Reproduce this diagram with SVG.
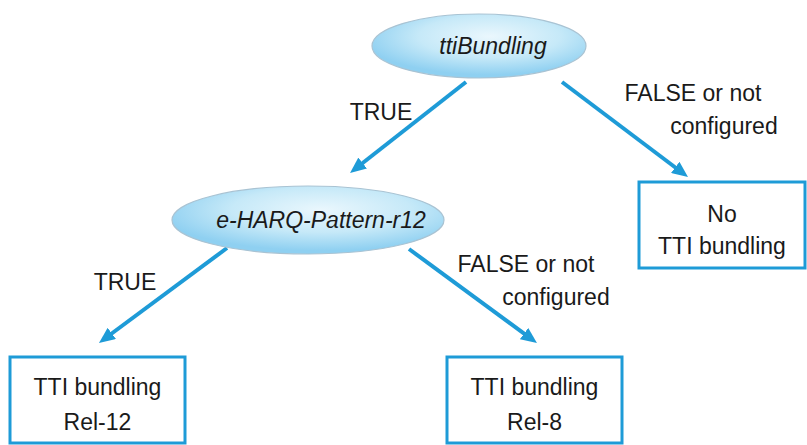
<svg xmlns="http://www.w3.org/2000/svg" width="807" height="445" viewBox="0 0 807 445">
<style>
text{font-family:"Liberation Sans",Arial,sans-serif;font-size:23px;fill:#1a1a1a;text-anchor:middle}
.it{font-style:italic}
.box{fill:#ffffff;stroke:#1e9bd7;stroke-width:3}
.ell{fill:url(#eg);stroke:#a9c3d3;stroke-width:1.2}
.con{stroke:#1e9bd7;stroke-width:4;fill:none;marker-end:url(#ah)}
</style>
<defs>
<radialGradient id="eg" cx="55%" cy="35%" r="60%">
<stop offset="0" stop-color="#eaf7fd"/>
<stop offset="0.55" stop-color="#c6e9f8"/>
<stop offset="1" stop-color="#8fd0f1"/>
</radialGradient>
<marker id="ah" markerWidth="16" markerHeight="14" refX="6" refY="7" orient="auto" markerUnits="userSpaceOnUse">
<path d="M0,0 L16,7 L0,14 z" fill="#1e9bd7"/>
</marker>
</defs>
<g id="connectors">
<line class="con" x1="466" y1="82" x2="357.9" y2="166.8"/>
<line class="con" x1="562" y1="82" x2="680" y2="171"/>
<line class="con" x1="227" y1="248" x2="107" y2="337"/>
<line class="con" x1="409" y1="249" x2="528.9" y2="337.1"/>
<text x="381" y="120">TRUE</text>
<text x="693" y="101">FALSE or not</text>
<text x="724" y="134">configured</text>
<text x="125" y="290">TRUE</text>
<text x="526" y="272">FALSE or not</text>
<text x="556" y="305">configured</text>
</g>
<g id="ttiBundling">
<ellipse class="ell" cx="479" cy="46" rx="107" ry="32"/>
<text class="it" x="493" y="54">ttiBundling</text>
</g>
<g id="eHARQ">
<ellipse class="ell" cx="308" cy="220" rx="136" ry="34"/>
<text class="it" x="321" y="228">e-HARQ-Pattern-r12</text>
</g>
<g id="noTTI">
<rect class="box" x="639" y="182" width="166" height="86"/>
<text x="722" y="222">No</text>
<text x="722" y="254">TTI bundling</text>
</g>
<g id="rel12">
<rect class="box" x="10" y="357" width="175" height="86"/>
<text x="97.5" y="395">TTI bundling</text>
<text x="97.5" y="430">Rel-12</text>
</g>
<g id="rel8">
<rect class="box" x="447" y="357" width="175" height="86"/>
<text x="534.5" y="395">TTI bundling</text>
<text x="534.5" y="430">Rel-8</text>
</g>
</svg>
